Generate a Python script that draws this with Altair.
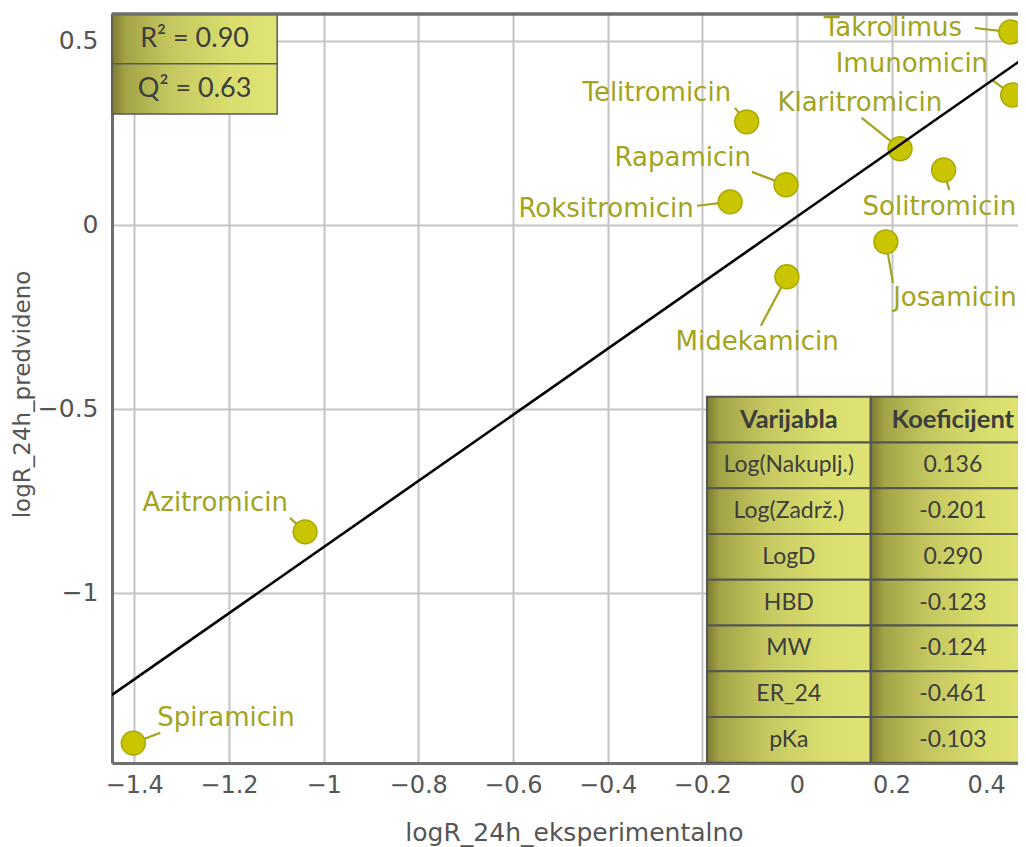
import altair as alt
import pandas as pd

# ---------------- data ----------------
names = ["Takrolimus", "Imunomicin", "Klaritromicin", "Solitromicin", "Telitromicin",
         "Rapamicin", "Roksitromicin", "Midekamicin", "Josamicin", "Azitromicin", "Spiramicin"]
x_exp = [0.452, 0.456, 0.218, 0.310, -0.106, -0.023, -0.141, -0.021, 0.188, -1.039, -1.402]
y_pred = [0.524, 0.353, 0.207, 0.149, 0.280, 0.109, 0.0625, -0.141, -0.046, -0.834, -1.408]

# label anchor (text centre) and leader start, in data units
label_x = [0.203, 0.243, 0.133, 0.301, -0.296, -0.241, -0.403, -0.084, 0.334, -1.229, -1.206]
label_y = [0.535, 0.4375, 0.332, 0.049, 0.359, 0.182, 0.043, -0.318, -0.198, -0.755, -1.340]
leader_x = [0.376, 0.412, 0.137, 0.322, -0.131, -0.095, -0.211, -0.076, 0.203, -1.071, -1.345]
leader_y = [0.535, 0.394, 0.291, 0.095, 0.318, 0.144, 0.052, -0.274, -0.158, -0.796, -1.380]

# regression line end points
line_x = [-1.447, 0.484]
line_y = [-1.277, 0.457]

x_ticks = [-1.4, -1.2, -1.0, -0.8, -0.6, -0.4, -0.2, 0.0, 0.2, 0.4]
y_ticks = [-1.0, -0.5, 0.0, 0.5]

stats_text = ["R\u00b2 = 0.90", "Q\u00b2 = 0.63"]

table_header = ["Varijabla", "Koeficijent"]
table_vars = ["Log(Nakuplj.)", "Log(Zadrž.)", "LogD", "HBD", "MW", "ER_24", "pKa"]
table_coefs = ["0.136", "-0.201", "0.290", "-0.123", "-0.124", "-0.461", "-0.103"]

# ---------------- layout ----------------
X_DOM = [-1.447, 0.4672]
Y_DOM = [-1.462, 0.573]
W, H = 906, 749

LABEL_COLOR = "#a3a31c"
TEXT_DARK = "#3d3d3d"
AXIS_TEXT = "#555555"

stats_x = [X_DOM[0], -1.098]
stats_y_edges = [Y_DOM[1], 0.4375, 0.3016]

tab_x_edges = [-0.190, 0.156, 0.503]
tab_top = -0.467
tab_row_h = 0.12425

xs = alt.Scale(domain=X_DOM, nice=False, zero=False)
ys = alt.Scale(domain=Y_DOM, nice=False, zero=False)

x_axis = alt.Axis(values=x_ticks, format="~g", title="logR_24h_eksperimentalno",
                  grid=True, gridColor="#c4c4c4", gridWidth=2,
                  domainColor="#6e6e6e", domainWidth=3, ticks=False,
                  labelFont="DejaVu Sans", labelFontSize=24, labelColor=AXIS_TEXT,
                  labelPadding=10, labelFlush=False,
                  titleFont="DejaVu Sans", titleFontSize=25, titleFontWeight="normal",
                  titleColor=AXIS_TEXT, titleX=462, titleY=69, titleBaseline="middle")
y_axis = alt.Axis(values=y_ticks, format="~g", title="logR_24h_predvideno",
                  grid=True, gridColor="#c4c4c4", gridWidth=2,
                  domainColor="#6e6e6e", domainWidth=3, ticks=False,
                  labelFont="DejaVu Sans", labelFontSize=25, labelColor=AXIS_TEXT,
                  labelPadding=14, labelFlush=False,
                  titleFont="DejaVu Sans", titleFontSize=23, titleFontWeight="normal",
                  titleColor=AXIS_TEXT, titleX=-90, titleY=380, titleBaseline="middle")


def X(field):
    return alt.X(field, scale=xs, axis=x_axis)


def Y(field):
    return alt.Y(field, scale=ys, axis=y_axis)


pts = pd.DataFrame({"name": names, "x": x_exp, "y": y_pred,
                    "lx": label_x, "ly": label_y, "sx": leader_x, "sy": leader_y})
line_df = pd.DataFrame({"x": line_x, "y": line_y})

grad_stops = [
    alt.GradientStop(color="#7b7b32", offset=0),
    alt.GradientStop(color="#a2a346", offset=0.08),
    alt.GradientStop(color="#c4c75f", offset=0.35),
    alt.GradientStop(color="#d8dd6d", offset=0.7),
    alt.GradientStop(color="#dfe474", offset=1),
]
grad = alt.LinearGradient(gradient="linear", stops=grad_stops, x1=0, x2=1, y1=0, y2=0)

# ---------------- layers ----------------
reg_line = alt.Chart(line_df).mark_line(color="black", strokeWidth=2.6, clip=True).encode(
    x=X("x:Q"), y=Y("y:Q"))

leaders = alt.Chart(pts).mark_rule(color=LABEL_COLOR, strokeWidth=2.2).encode(
    x=X("sx:Q"), y=Y("sy:Q"), x2="x:Q", y2="y:Q")

points = alt.Chart(pts).mark_point(filled=True, size=570, fill="#c9c500", stroke="#aaa700",
                                   strokeWidth=1.5, opacity=1, fillOpacity=1).encode(
    x=X("x:Q"), y=Y("y:Q"))

labels = alt.Chart(pts).mark_text(font="DejaVu Sans", fontSize=26, color=LABEL_COLOR,
                                  align="center", baseline="middle").encode(
    x=X("lx:Q"), y=Y("ly:Q"), text="name:N")

# stats boxes
stats_df = pd.DataFrame({
    "x0": [stats_x[0]] * 2, "x1": [stats_x[1]] * 2,
    "y0": stats_y_edges[:2], "y1": stats_y_edges[1:], "t": stats_text})
stats_df["xc"] = (stats_df.x0 + stats_df.x1) / 2
stats_df["yc"] = (stats_df.y0 + stats_df.y1) / 2

stats_rect = alt.Chart(stats_df).mark_rect(fill=grad, stroke="#5a5a5a", strokeWidth=1.5).encode(
    x=X("x0:Q"), x2="x1:Q", y=Y("y0:Q"), y2="y1:Q")
stats_txt = alt.Chart(stats_df).mark_text(font="Lato", fontSize=27, color=TEXT_DARK,
                                          align="center", baseline="middle").encode(
    x=X("xc:Q"), y=Y("yc:Q"), text="t:N")

# table
rows = []
all_rows = [table_header] + [[v, c] for v, c in zip(table_vars, table_coefs)]
for r, row in enumerate(all_rows):
    for c, txt in enumerate(row):
        rows.append({"x0": tab_x_edges[c], "x1": tab_x_edges[c + 1],
                     "y0": tab_top - r * tab_row_h, "y1": tab_top - (r + 1) * tab_row_h,
                     "t": txt, "hdr": r == 0})
tab_df = pd.DataFrame(rows)
tab_df["xc"] = (tab_df.x0 + tab_df.x1) / 2
tab_df["yc"] = (tab_df.y0 + tab_df.y1) / 2

tab_rect = alt.Chart(tab_df).mark_rect(fill=grad, stroke="#555555", strokeWidth=2, clip=True).encode(
    x=X("x0:Q"), x2="x1:Q", y=Y("y0:Q"), y2="y1:Q")
tab_hdr = alt.Chart(tab_df[tab_df.hdr]).mark_text(font="Lato", fontSize=25.5, fontWeight="bold",
                                                  color=TEXT_DARK, align="center", baseline="middle").encode(
    x=X("xc:Q"), y=Y("yc:Q"), text="t:N")
tab_body = alt.Chart(tab_df[~tab_df.hdr]).mark_text(font="Lato", fontSize=23,
                                                    color=TEXT_DARK, align="center", baseline="middle").encode(
    x=X("xc:Q"), y=Y("yc:Q"), text="t:N")

top_border = alt.Chart(line_df).mark_rule(color="#6e6e6e", strokeWidth=3).encode(
    x=alt.value(0), x2=alt.value(W), y=alt.value(0))

chart = alt.layer(
    leaders, points, reg_line, labels,
    stats_rect, stats_txt, tab_rect, tab_hdr, tab_body, top_border
).properties(
    width=W, height=H,
    autosize=alt.AutoSizeParams(type="none"),
    padding={"left": 104, "top": 6, "right": 0, "bottom": 84},
).configure_view(stroke=None).configure(background="white")

chart.save("out.html", embed_options={"renderer": "svg", "actions": False})
